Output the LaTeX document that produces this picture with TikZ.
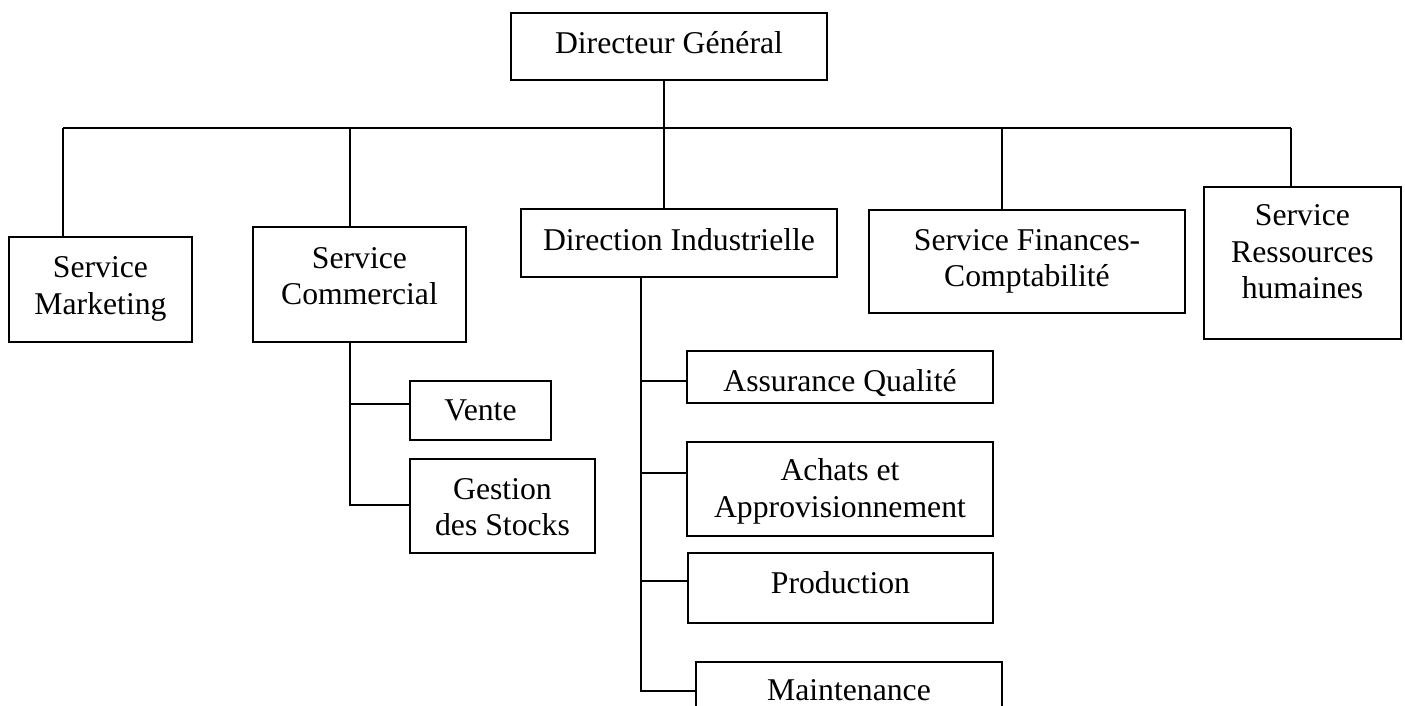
\documentclass[tikz,border=0pt]{standalone}
\usepackage{fontspec}
\setmainfont{Liberation Serif}
\newcommand\mlines[1]{\begin{tabular}[t]{@{}c@{}}#1\end{tabular}}
\begin{document}
\begin{tikzpicture}[x=1pt,y=-1pt,
  bx/.style={draw, line width=1.7pt, inner sep=0pt},
  lbl/.style={anchor=base, inner sep=0pt, font=\fontsize{31.7}{36.7}\selectfont},
  conn/.style={line width=1.7pt}]
\useasboundingbox (0,0) rectangle (1405,706);
\clip (0,0) rectangle (1405,706);
% ---- boxes ----
\node[bx, minimum width=316pt, minimum height=67pt]  (dg) at (669,46.5) {};
\node[bx, minimum width=183pt, minimum height=105pt] (mk) at (100.5,289.5) {};
\node[bx, minimum width=213pt, minimum height=115pt] (cm) at (359.5,284.5) {};
\node[bx, minimum width=316pt, minimum height=68pt]  (di) at (679,243) {};
\node[bx, minimum width=316pt, minimum height=103pt] (fi) at (1027,261.5) {};
\node[bx, minimum width=197pt, minimum height=152pt] (rh) at (1302.5,263) {};
\node[bx, minimum width=141pt, minimum height=59pt]  (ve) at (480.5,410.5) {};
\node[bx, minimum width=185pt, minimum height=94pt]  (gs) at (502.5,506) {};
\node[bx, minimum width=306pt, minimum height=52pt]  (aq) at (840,377) {};
\node[bx, minimum width=306pt, minimum height=94pt]  (ac) at (840,489) {};
\node[bx, minimum width=305pt, minimum height=70pt]  (pr) at (840.5,588) {};
\node[bx, minimum width=306pt, minimum height=58pt]  (mt) at (849,691) {};
% ---- texts (at first baseline) ----
\node[lbl] (tdg) at (669,54) {Directeur Général};
\node[lbl] (tmk) at (100.5,277.5) {\mlines{Service\\Marketing}};
\node[lbl] (tcm) at (359.5,268) {\mlines{Service\\Commercial}};
\node[lbl] (tdi) at (679,250) {Direction Industrielle};
\node[lbl] (tfi) at (1027,250) {\mlines{Service Finances-\\Comptabilité}};
\node[lbl] (trh) at (1302.5,225.5) {\mlines{Service\\Ressources\\humaines}};
\node[lbl] (tve) at (480.5,420.5) {Vente};
\node[lbl] (tgs) at (502.5,499) {\mlines{Gestion\\des Stocks}};
\node[lbl] (taq) at (840,391) {Assurance Qualité};
\node[lbl] (tac) at (840,480.5) {\mlines{Achats et\\Approvisionnement}};
\node[lbl] (tpr) at (840.5,593) {Production};
\node[lbl] (tmt) at (849,700) {Maintenance};
% ---- bus ----
\coordinate (bmk) at (63,128);
\coordinate (bcm) at (350,128);
\coordinate (bdi) at (664,128);
\coordinate (bfi) at (1002,128);
\coordinate (brh) at (1291,128);
\draw[conn] (bmk) -- (brh);
\draw[conn] (dg.south -| bdi) -- (bdi |- di.north);
\draw[conn] (bmk) -- (bmk |- mk.north);
\draw[conn] (bcm) -- (bcm |- cm.north);
\draw[conn] (bfi) -- (bfi |- fi.north);
\draw[conn] (brh) -- (brh |- rh.north);
% ---- commercial branch ----
\coordinate (cv) at (350,404);
\coordinate (cg) at (350,505);
\draw[conn] (cm.south -| cg) -- (cg) -- (cg -| gs.west);
\draw[conn] (cv) -- (cv -| ve.west);
% ---- industrial branch ----
\coordinate (d1) at (641,381);
\coordinate (d2) at (641,473);
\coordinate (d3) at (641,581);
\coordinate (d4) at (641,691);
\draw[conn] (di.south -| d4) -- (d4) -- (d4 -| mt.west);
\draw[conn] (d1) -- (d1 -| aq.west);
\draw[conn] (d2) -- (d2 -| ac.west);
\draw[conn] (d3) -- (d3 -| pr.west);
\end{tikzpicture}
\end{document}
